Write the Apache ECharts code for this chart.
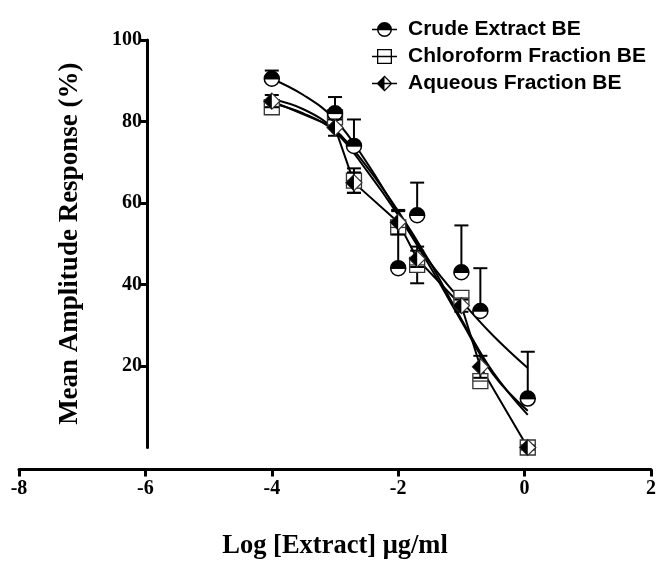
<!DOCTYPE html>
<html>
<head>
<meta charset="utf-8">
<script src="https://cdn.jsdelivr.net/npm/echarts@6/dist/echarts.min.js"></script>
<style>html,body{margin:0;padding:0;background:#fff;}#c{width:659px;height:578px;}</style>
</head>
<body>
<div id="c"></div>
<script>
// Data
const xVals = [-4, -3, -2.7, -2, -1.7, -1, -0.7, 0.05];
const crude = [90.5, 82, 74, 44, 57, 43, 33.5, 12];
const crudeErr = [2, 4, 6.5, 14, 8, 11.5, 10.5, 11.5];
const chloro = [83.5, 81, 65.5, 54, 44.8, 36.7, 16.3, 0];
const chloroErr = [1.5, 1.5, 3, 1.5, 4.5, 1.5, 1.5, 0.5];
const aqueous = [85, 78.5, 65, 55.3, 46.3, 34.8, 19.8, 0];
const aqueousErr = [1.5, 2, 2.5, 3, 2, 1.5, 2.7, 0.5];

const fitX = [-4, -3.5, -3, -2.5, -2, -1.5, -1, -0.5, 0.05];
const crudeFit = [90.5, 86.5, 80.5, 70, 57.5, 45.5, 36, 27.5, 19.5];
const chloroFit = [84.5, 82, 77.5, 68, 57, 44.5, 31, 18, 9];
const aqueousFit = [85.5, 83, 78, 69, 58, 45.5, 31.5, 18.5, 8];

const xTicks = [-8, -6, -4, -2, 0, 2];
const yTicks = [20, 40, 60, 80, 100];
const names = ['Crude Extract BE', 'Chloroform Fraction BE', 'Aqueous Fraction BE'];

const icons = {
  crude: 'path://M5,8 A7.5,7.5 0 1,1 20,8 A7.5,7.5 0 1,1 5,8 Z M6.5,8 A6,6 0 1,0 18.5,8 A6,6 0 1,0 6.5,8 Z M5,8 A7.5,7.5 0 0,1 20,8 Z M0,7.3 L25,7.3 L25,8.7 L0,8.7 Z',
  chloro: 'path://M5,0.5 L20,0.5 L20,15.5 L5,15.5 Z M6.3,1.8 L6.3,14.2 L18.7,14.2 L18.7,1.8 Z M0,7.35 L25,7.35 L25,8.65 L0,8.65 Z',
  aqueous: 'path://M4.5,8 L12.5,0 L20.5,8 L12.5,16 Z M6.3,8 L12.5,14.2 L18.7,8 L12.5,1.8 Z M4.5,8 L12.5,0 L12.5,16 Z M0,7.3 L25,7.3 L25,8.7 L0,8.7 Z'
};

function pairs(xs, ys) { return xs.map((x, i) => [x, ys[i]]); }
function triples(xs, ys, es) { return xs.map((x, i) => [x, ys[i], es[i]]); }

function errorBar(api, x, y, e, up, down, children) {
  const p = api.coord([x, y]);
  const cap = 7;
  const st = { stroke: '#000', lineWidth: 2 };
  if (up) {
    const t = api.coord([x, y + e]);
    children.push({ type: 'line', shape: { x1: p[0], y1: p[1], x2: t[0], y2: t[1] }, style: st });
    children.push({ type: 'line', shape: { x1: t[0] - cap, y1: t[1], x2: t[0] + cap, y2: t[1] }, style: st });
  }
  if (down) {
    const b = api.coord([x, y - e]);
    children.push({ type: 'line', shape: { x1: p[0], y1: p[1], x2: b[0], y2: b[1] }, style: st });
    children.push({ type: 'line', shape: { x1: b[0] - cap, y1: b[1], x2: b[0] + cap, y2: b[1] }, style: st });
  }
  return p;
}

function renderCrude(params, api) {
  const children = [];
  const p = errorBar(api, api.value(0), api.value(1), api.value(2), true, false, children);
  const r = 7.5;
  children.push({ type: 'circle', shape: { cx: p[0], cy: p[1], r: r }, style: { fill: '#fff', stroke: '#000', lineWidth: 1.5 } });
  children.push({ type: 'sector', shape: { cx: p[0], cy: p[1], r0: 0, r: r, startAngle: Math.PI, endAngle: 2 * Math.PI }, style: { fill: '#000' } });
  children.push({ type: 'line', shape: { x1: p[0] - r, y1: p[1], x2: p[0] + r, y2: p[1] }, style: { stroke: '#000', lineWidth: 1.5 } });
  return { type: 'group', children };
}
function renderChloro(params, api) {
  const children = [];
  const p = errorBar(api, api.value(0), api.value(1), api.value(2), true, true, children);
  const h = 7.5;
  children.push({ type: 'rect', shape: { x: p[0] - h, y: p[1] - h, width: 2 * h, height: 2 * h }, style: { fill: '#fff', stroke: '#333', lineWidth: 1.3 } });
  children.push({ type: 'line', shape: { x1: p[0] - h, y1: p[1], x2: p[0] + h, y2: p[1] }, style: { stroke: '#333', lineWidth: 1.3 } });
  return { type: 'group', children };
}
function renderAqueous(params, api) {
  const children = [];
  const p = errorBar(api, api.value(0), api.value(1), api.value(2), true, true, children);
  const d = 8;
  children.push({ type: 'polygon', shape: { points: [[p[0] - d, p[1]], [p[0], p[1] - d], [p[0] + d, p[1]], [p[0], p[1] + d]] }, style: { fill: '#fff', stroke: '#333', lineWidth: 1.2 } });
  children.push({ type: 'polygon', shape: { points: [[p[0] - d, p[1]], [p[0], p[1] - d], [p[0], p[1] + d]] }, style: { fill: '#000' } });
  return { type: 'group', children };
}

const serif = 'Liberation Serif';
const chart = echarts.init(document.getElementById('c'));
const lineStyle = { color: '#000', width: 2 };
chart.setOption({
  animation: false,
  backgroundColor: '#fff',
  grid: { left: 19, right: 4, top: 40, bottom: 130.5, containLabel: false },
  legend: {
    orient: 'vertical', left: 367, top: 14, itemWidth: 25, itemHeight: 16, itemGap: 6,
    textStyle: { fontFamily: 'Liberation Sans', fontWeight: 'bold', fontSize: 21, color: '#000', padding: [0, 0, 0, 6] },
    data: [
      { name: names[0], icon: icons.crude, itemStyle: { color: '#000' } },
      { name: names[1], icon: icons.chloro, itemStyle: { color: '#000' } },
      { name: names[2], icon: icons.aqueous, itemStyle: { color: '#000' } }
    ]
  },
  xAxis: {
    type: 'value', min: xTicks[0], max: xTicks[xTicks.length - 1], interval: 2, offset: 22,
    axisLine: { onZero: false, lineStyle: { color: '#000', width: 3 } },
    axisTick: { length: 7, lineStyle: { color: '#000', width: 3 } },
    axisLabel: { color: '#000', fontFamily: serif, fontWeight: 'bold', fontSize: 20, margin: 9 },
    splitLine: { show: false },
    name: 'Log [Extract] \u03bcg/ml', nameLocation: 'middle', nameGap: 63,
    nameTextStyle: { color: '#000', fontFamily: serif, fontWeight: 'bold', fontSize: 26.5 }
  },
  yAxis: {
    type: 'value', min: 0, max: 100, interval: 20, offset: -128,
    axisLine: { show: true, onZero: false, lineStyle: { color: '#000', width: 3 } },
    axisTick: { show: true, length: 7, customValues: yTicks, lineStyle: { color: '#000', width: 3 } },
    axisLabel: { color: '#000', fontFamily: serif, fontWeight: 'bold', fontSize: 20, margin: 5, customValues: yTicks },
    splitLine: { show: false },
    name: 'Mean Amplitude Response (%)', nameLocation: 'middle', nameGap: 63, nameRotate: 90,
    nameTextStyle: { color: '#000', fontFamily: serif, fontWeight: 'bold', fontSize: 27 }
  },
  series: [
    { type: 'line', name: names[0] + ' fit', data: pairs(fitX, crudeFit), smooth: 0.4, showSymbol: false, symbol: 'none', lineStyle, z: 2 },
    { type: 'line', name: names[1] + ' fit', data: pairs(fitX, chloroFit), smooth: 0.4, showSymbol: false, symbol: 'none', lineStyle, z: 2 },
    { type: 'line', name: names[2] + ' fit', data: pairs(fitX, aqueousFit), smooth: 0.4, showSymbol: false, symbol: 'none', lineStyle, z: 2 },
    { type: 'line', name: names[2] + ' link', data: pairs(xVals, aqueous), showSymbol: false, symbol: 'none', lineStyle, z: 2 },
    { type: 'custom', name: names[0], data: triples(xVals, crude, crudeErr), renderItem: renderCrude, z: 5, itemStyle: { color: '#000' } },
    { type: 'custom', name: names[1], data: triples(xVals, chloro, chloroErr), renderItem: renderChloro, z: 4, itemStyle: { color: '#000' } },
    { type: 'custom', name: names[2], data: triples(xVals, aqueous, aqueousErr), renderItem: renderAqueous, z: 6, itemStyle: { color: '#000' } }
  ]
});
</script>
</body>
</html>
